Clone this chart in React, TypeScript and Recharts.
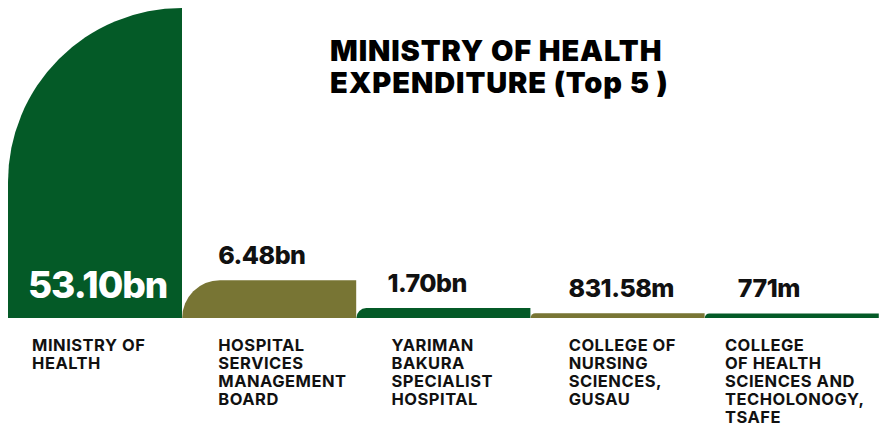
import React from 'react';
import { BarChart, Bar, XAxis, YAxis, Cell, LabelList } from 'recharts';

// spending in billions of naira
const categories = [
  'MINISTRY OF\nHEALTH',
  'HOSPITAL\nSERVICES\nMANAGEMENT\nBOARD',
  'YARIMAN\nBAKURA\nSPECIALIST\nHOSPITAL',
  'COLLEGE OF\nNURSING\nSCIENCES,\nGUSAU',
  'COLLEGE\nOF HEALTH\nSCIENCES AND\nTECHOLONOGY,\nTSAFE',
];
const values = [53.1, 6.48, 1.7, 0.83158, 0.771];

const GREEN = '#045a27';
const OLIVE = '#787534';
const barColors = [GREEN, OLIVE, GREEN, OLIVE, GREEN];

// how far the text columns sit from each bar's left edge
const tickInset = [24, 36, 35, 38, 20];
const valueInset = [20, 36, 31, 38, 33];

const FONT = 'Inter, "Open Sans", sans-serif';

const data = categories.map((name, i) => ({ name, value: values[i] }));

const fmt = (v: number) => {
  if (v >= 1) return `${v.toFixed(2)}bn`;
  const m = Math.round(v * 100000) / 100;
  return `${m}m`;
};

// bar with a rounded (quarter circle) top-left corner
const LeafBar = (props: any) => {
  const { x, y, width, height, fill } = props;
  if (!height || height <= 0) return null;
  const rx = Math.min(width, height);
  const ry = Math.min(height, rx);
  const d = `M${x},${y + height} L${x},${y + ry} A${rx},${ry} 0 0 1 ${x + rx},${y} L${x + width},${y} L${x + width},${y + height} Z`;
  return <path d={d} fill={fill} />;
};

const CategoryTick = (props: any) => {
  const { x, y, payload, index } = props;
  const lines = String(payload.value).split('\n');
  const left = x - 87 + tickInset[index];
  return (
    <text
      x={left}
      y={y + 25}
      fill="#111"
      fontFamily={FONT}
      fontWeight={700}
      fontSize={16.5}
      letterSpacing={0.5}
      textAnchor="start"
    >
      {lines.map((l, i) => (
        <tspan key={i} x={left} dy={i === 0 ? 0 : 18}>
          {l}
        </tspan>
      ))}
    </text>
  );
};

const ValueLabel = (props: any) => {
  const { x, y, height, value, index } = props;
  const left = x + valueInset[index];
  if (height > 100) {
    return (
      <text x={left} y={y + height - 20} fill="#fff" fontFamily={FONT} fontWeight={800} fontSize={37} letterSpacing={-1}>
        {fmt(value)}
      </text>
    );
  }
  return (
    <text x={left} y={y - 16} fill="#111" fontFamily={FONT} fontWeight={800} fontSize={25} letterSpacing={-0.5}>
      {fmt(value)}
    </text>
  );
};

export default function App() {
  return (
    <div style={{ position: 'absolute', left: 0, top: 0, width: 886, height: 430, background: '#fff' }}>
      <BarChart
        width={886}
        height={430}
        data={data}
        margin={{ top: 8, right: 7, bottom: 0, left: 8 }}
        barCategoryGap={0}
        style={{ overflow: 'visible' }}
      >
        <XAxis
          dataKey="name"
          height={112}
          axisLine={false}
          tickLine={false}
          interval={0}
          tick={<CategoryTick />}
        />
        <YAxis hide domain={[0, 53.1]} />
        <Bar dataKey="value" shape={<LeafBar />} isAnimationActive={false}>
          {data.map((_, i) => (
            <Cell key={i} fill={barColors[i]} />
          ))}
          <LabelList dataKey="value" content={<ValueLabel />} />
        </Bar>
      </BarChart>
      <div
        style={{
          position: 'absolute',
          left: 330,
          top: 36,
          fontFamily: FONT,
          fontWeight: 900,
          fontSize: 29,
          letterSpacing: 0.9,
          color: '#000',
        }}
      >
        <div style={{ lineHeight: '30px' }}>MINISTRY OF HEALTH</div>
        <div style={{ lineHeight: '30px', marginTop: 2 }}>EXPENDITURE (Top 5 )</div>
      </div>
    </div>
  );
}
